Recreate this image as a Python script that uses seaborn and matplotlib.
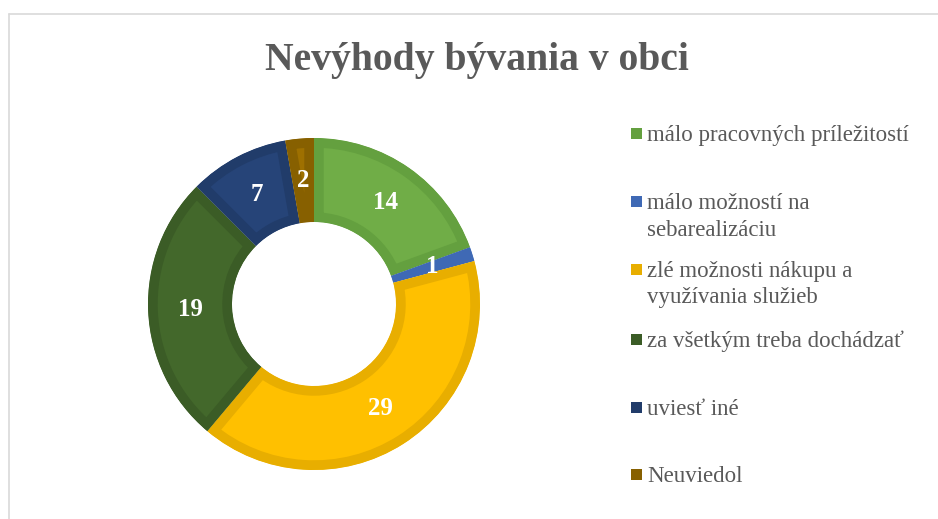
import matplotlib
matplotlib.use("Agg")
import matplotlib.pyplot as plt
from matplotlib.lines import Line2D
from matplotlib.patches import Rectangle
import seaborn as sns

# data
categories = ["málo pracovných príležitostí",
              "málo možností na\nsebarealizáciu",
              "zlé možnosti nákupu a\nvyužívania služieb",
              "za všetkým treba dochádzať",
              "uviesť iné",
              "Neuviedol"]
values = [14, 1, 29, 19, 7, 2]
fill_colors = ["#70AD47", "#4472C4", "#FFC000", "#43682B", "#264478", "#9E7000"]
edge_colors = ["#64A03F", "#3F69B5", "#E8AE00", "#3B5C26", "#213C6A", "#876000"]
title = "Nevýhody bývania v obci"

# layout (pixels)
W, H = 938, 519
cx, cy, R = 314, 304, 166
legend_base = [141, 209, 277, 347, 415, 482]
line_step = 26.5

sns.set_theme(style="white")
plt.rcParams["font.family"] = ["Liberation Serif", "DejaVu Serif"]

fig = plt.figure(figsize=(W / 100, H / 100), dpi=100)
fig.patch.set_facecolor("white")

ax = fig.add_axes([(cx - R) / W, (H - cy - R) / H, 2 * R / W, 2 * R / H])
total = sum(values)
wedges, _, autotexts = ax.pie(
    values, colors=fill_colors, startangle=90, counterclock=False, radius=1,
    wedgeprops=dict(width=0.506, linewidth=0),
    autopct=lambda p: f"{round(p * total / 100)}", pctdistance=0.747,
    textprops=dict(color="white", fontsize=18, fontweight="bold"))
for w, ec in zip(wedges, edge_colors):
    w.set_edgecolor(ec)
    w.set_linewidth(14)
    w.set_clip_on(True)
    w.set_clip_path(w)
for t in autotexts:
    t.set_zorder(5)
ax.set_xlim(-1, 1)
ax.set_ylim(-1, 1)
ax.set_aspect("equal")
ax.axis("off")

# title
fig.text(477 / W, 1 - 70 / H, title, ha="center", va="baseline",
         fontsize=28.5, fontweight="bold", color="#595959")

# legend
for lab, col, yb in zip(categories, edge_colors, legend_base):
    fig.patches.append(Rectangle((631 / W, 1 - (yb - 2) / H), 11 / W, 11 / H,
                                 transform=fig.transFigure, facecolor=col,
                                 edgecolor="none"))
    for i, line in enumerate(lab.split("\n")):
        fig.text(647 / W, 1 - (yb + i * line_step) / H, line, ha="left",
                 va="baseline", fontsize=16.5, color="#595959")

# chart area border
fig.lines.append(Line2D([8.5 / W, 8.5 / W], [1 - 14 / H, 0], transform=fig.transFigure,
                        color="#D9D9D9", linewidth=1.2))
fig.lines.append(Line2D([8.5 / W, 1], [1 - 14 / H, 1 - 14 / H], transform=fig.transFigure,
                        color="#D9D9D9", linewidth=1.2))

fig.savefig("out.png", dpi=100)
